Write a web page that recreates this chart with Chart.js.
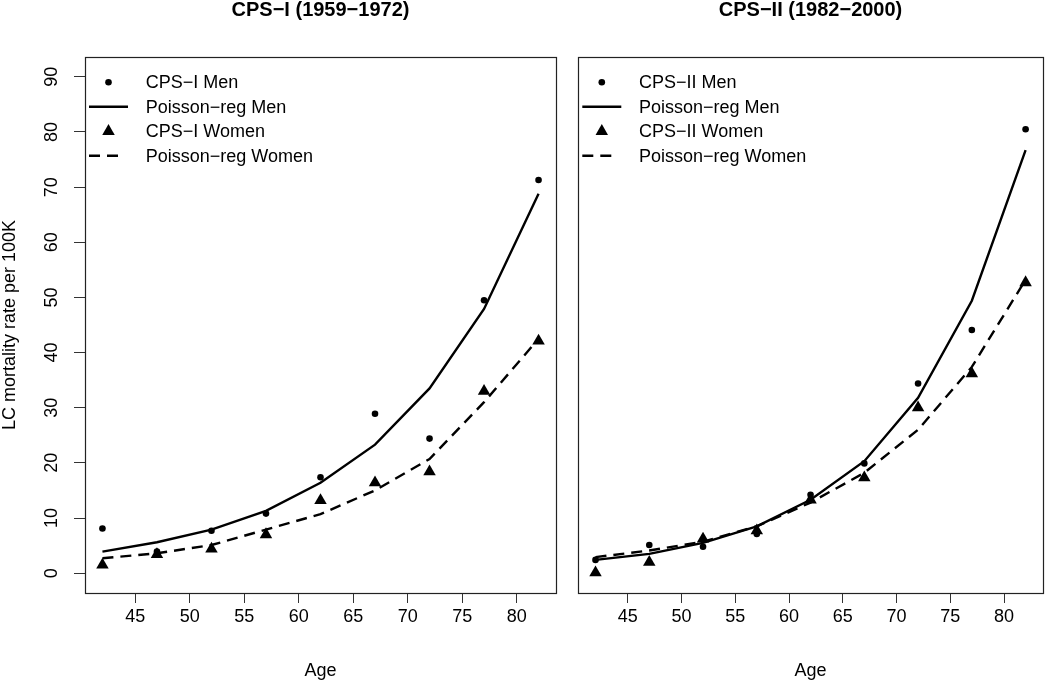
<!DOCTYPE html>
<html>
<head>
<meta charset="utf-8">
<script src="https://cdn.jsdelivr.net/npm/chart.js@4.4.1/dist/chart.umd.min.js"></script>
<style>
  html, body { margin: 0; padding: 0; background: #fff; overflow: hidden; }
  #wrap { position: relative; width: 1050px; height: 682px; }
  canvas { position: absolute; top: 0; }
  #c1 { left: 0; }
  #c2 { left: 566px; }
</style>
</head>
<body>
<div id="wrap">
  <canvas id="c1" width="566" height="682"></canvas>
  <canvas id="c2" width="484" height="682"></canvas>
</div>
<script>
var FONT = "'Liberation Sans', Arial, Helvetica, sans-serif";

var ages = [42, 47, 52, 57, 62, 67, 72, 77, 82];
var xTicks = [45, 50, 55, 60, 65, 70, 75, 80];
var yTicks = [0, 10, 20, 30, 40, 50, 60, 70, 80, 90];

// CPS-I (1959-1972)
var cps1MenObs   = [8.1, 3.9, 7.7, 10.8, 17.4, 28.9, 24.4, 49.5, 71.3];
var cps1MenFit   = [3.9, 5.6, 7.9, 11.3, 16.4, 23.3, 33.5, 47.9, 68.8];
var cps1WomenObs = [1.5, 3.4, 4.4, 7.0, 13.2, 16.4, 18.4, 33.0, 42.1];
var cps1WomenFit = [2.7, 3.6, 5.1, 7.9, 10.7, 15.0, 20.7, 31.0, 42.5];

// CPS-II (1982-2000)
var cps2MenObs   = [2.4, 5.1, 4.8, 7.1, 14.2, 19.9, 34.4, 44.1, 80.5];
var cps2MenFit   = [2.4, 3.5, 5.5, 8.5, 13.3, 20.3, 31.8, 49.4, 76.7];
var cps2WomenObs = [0.1, 2.0, 6.2, 7.7, 13.3, 17.3, 30.0, 36.2, 52.7];
var cps2WomenFit = [2.9, 4.1, 5.7, 8.5, 12.8, 18.2, 26.0, 37.4, 53.2];

var labels1 = ["CPS\u2212I Men", "Poisson\u2212reg Men", "CPS\u2212I Women", "Poisson\u2212reg Women"];
var labels2 = ["CPS\u2212II Men", "Poisson\u2212reg Men", "CPS\u2212II Women", "Poisson\u2212reg Women"];

function pts(vals) {
  return ages.map(function (a, i) { return { x: a, y: vals[i] }; });
}

function datasets(lbl, menObs, menFit, womenObs, womenFit) {
  return [
    { label: lbl[0], data: pts(menObs), showLine: false, pointStyle: "circle",
      pointRadius: 3.3, pointBorderWidth: 0, pointBackgroundColor: "#000" },
    { label: lbl[1], data: pts(menFit), showLine: true, borderColor: "#000",
      borderWidth: 2.4, pointRadius: 0 },
    { label: lbl[2], data: pts(womenObs), showLine: false, pointStyle: "triangle",
      pointRadius: 7.2, pointBorderWidth: 0, pointBackgroundColor: "#000" },
    { label: lbl[3], data: pts(womenFit), showLine: true, borderColor: "#000",
      borderWidth: 2.4, borderDash: [11, 7], pointRadius: 0 }
  ];
}

/* plot frame like R's box() */
var rBox = {
  id: "rBox",
  afterDatasetsDraw: function (chart) {
    var a = chart.chartArea, ctx = chart.ctx;
    ctx.save();
    ctx.strokeStyle = "#222";
    ctx.lineWidth = 1.2;
    ctx.strokeRect(Math.round(a.left) + 0.5, Math.round(a.top) + 0.5,
      Math.round(a.right - a.left), Math.round(a.bottom - a.top));
    ctx.restore();
  }
};

/* legend inside the top-left corner, no border */
var rLegend = {
  id: "rLegend",
  afterDraw: function (chart, args, opts) {
    var a = chart.chartArea, ctx = chart.ctx;
    chart.data.datasets.forEach(function (ds, i) {
      var cy = a.top + opts.top + i * opts.gap;
      var x0 = a.left + opts.left;
      ctx.save();
      ctx.fillStyle = "#000";
      ctx.strokeStyle = "#000";
      if (ds.showLine) {
        ctx.lineWidth = ds.borderWidth;
        ctx.setLineDash(ds.borderDash || []);
        ctx.beginPath();
        ctx.moveTo(x0, cy);
        ctx.lineTo(x0 + (ds.borderDash ? 29 : 39), cy);
        ctx.stroke();
      } else {
        Chart.helpers.drawPoint(ctx, {
          pointStyle: ds.pointStyle, radius: ds.pointRadius, borderWidth: 0, rotation: 0
        }, x0 + 19.5, cy);
      }
      ctx.font = "18px " + FONT;
      ctx.textBaseline = "middle";
      ctx.textAlign = "left";
      ctx.fillText(ds.label, x0 + 56.7, cy + 1);
      ctx.restore();
    });
  }
};

function makeChart(id, title, ds, showY, pad) {
  return new Chart(document.getElementById(id), {
    type: "scatter",
    data: { datasets: ds },
    plugins: [rBox, rLegend],
    options: {
      responsive: false,
      animation: false,
      events: [],
      layout: { padding: pad },
      plugins: {
        legend: { display: false },
        tooltip: { enabled: false },
        title: {
          display: true,
          text: title,
          fullSize: false,
          color: "#000",
          font: { family: FONT, size: 20, weight: "bold", lineHeight: 1 },
          padding: { top: 0, bottom: 37 }
        },
        rLegend: { left: 4, top: 25.3, gap: 24.5 }
      },
      scales: {
        x: {
          type: "linear",
          min: 40.4,
          max: 83.6,
          afterBuildTicks: function (s) {
            s.ticks = xTicks.map(function (v) { return { value: v }; });
          },
          afterFit: function (s) {
            s.height = 89;
            s.paddingLeft = 0;
            s.paddingRight = 0;
          },
          border: { display: false },
          grid: { drawOnChartArea: false, tickLength: 10, color: "#333", lineWidth: 1 },
          ticks: { padding: 3, maxRotation: 0, autoSkip: false, color: "#000",
                   font: { family: FONT, size: 18 } },
          title: { display: true, text: "Age", color: "#000", padding: 0,
                   font: { family: FONT, size: 18 } }
        },
        y: {
          type: "linear",
          display: showY,
          min: -3.6,
          max: 93.6,
          afterBuildTicks: function (s) {
            s.ticks = yTicks.map(function (v) { return { value: v }; });
          },
          afterFit: function (s) {
            s.width = showY ? 85 : 0;
            s.paddingTop = 0;
            s.paddingBottom = 0;
          },
          border: { display: false },
          grid: { drawOnChartArea: false, tickLength: 11, color: "#333", lineWidth: 1 },
          ticks: { minRotation: 90, maxRotation: 90, crossAlign: "center", padding: 12,
                   color: "#000", font: { family: FONT, size: 18 } },
          title: { display: true, text: "LC mortality rate per 100K", color: "#000", padding: 1,
                   font: { family: FONT, size: 18, lineHeight: 1 } }
        }
      }
    }
  });
}

makeChart("c1", "CPS\u2212I (1959\u22121972)",
  datasets(labels1, cps1MenObs, cps1MenFit, cps1WomenObs, cps1WomenFit),
  true, { left: 0, right: 10, top: 0, bottom: 0 });

makeChart("c2", "CPS\u2212II (1982\u22122000)",
  datasets(labels2, cps2MenObs, cps2MenFit, cps2WomenObs, cps2WomenFit),
  false, { left: 12.3, right: -3, top: 0, bottom: 0 });
</script>
</body>
</html>
